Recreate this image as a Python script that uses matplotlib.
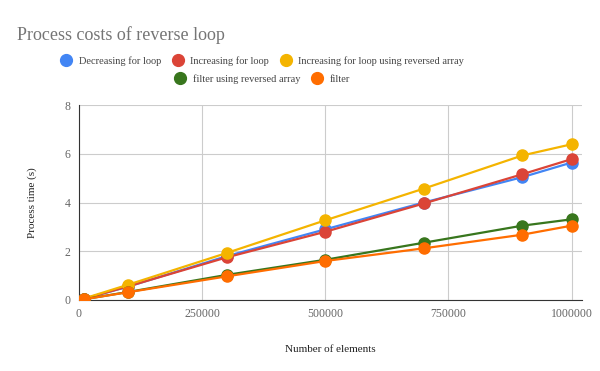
import matplotlib
matplotlib.use("Agg")
import matplotlib.pyplot as plt
from matplotlib.lines import Line2D

plt.rcParams['font.family'] = ['Liberation Serif', 'DejaVu Serif']

elements = [10000, 100000, 300000, 500000, 700000, 900000, 1000000]
decreasing_for = [0.05, 0.55, 1.80, 2.90, 4.00, 5.04, 5.64]
increasing_for = [0.05, 0.56, 1.75, 2.80, 3.96, 5.16, 5.78]
increasing_reversed = [0.06, 0.63, 1.93, 3.27, 4.57, 5.93, 6.39]
filter_reversed = [0.03, 0.33, 1.03, 1.65, 2.35, 3.05, 3.31]
filter_plain = [0.03, 0.32, 0.97, 1.60, 2.12, 2.68, 3.05]

x_ticks = [0, 250000, 500000, 750000, 1000000]
x_labels = ["0", "250000", "500000", "750000", "1000000"]
y_ticks = [0, 2, 4, 6, 8]

series = [
    ("Decreasing for loop", decreasing_for, "#4285F4"),
    ("Increasing for loop", increasing_for, "#DB4437"),
    ("Increasing for loop using reversed array", increasing_reversed, "#F4B400"),
    ("filter using reversed array", filter_reversed, "#38761D"),
    ("filter", filter_plain, "#FF6D00"),
]

fig = plt.figure(figsize=(6, 3.71), dpi=100)
ax = fig.add_axes([79/600, 1-300/371, (582-79)/600, (300-105)/371])

for name, vals, col in series:
    ax.plot(elements, vals, color=col, lw=1.6, marker='o', ms=8, label=name, zorder=3)

ax.set_xlim(0, 1021000)
ax.set_ylim(0, 8)
ax.set_xticks(x_ticks, x_labels)
ax.set_yticks(y_ticks)
ax.grid(True, color="#cccccc", lw=0.8)
ax.set_axisbelow(True)
for s in ['top', 'right']:
    ax.spines[s].set_visible(False)
ax.spines['left'].set_color("#333333")
ax.spines['bottom'].set_color("#333333")
ax.tick_params(length=0, labelsize=8.5, labelcolor="#666666", pad=6)
ax.set_xlabel("Number of elements", fontsize=8, color="#222222", labelpad=18)
ax.set_ylabel("Process time (s)", fontsize=8, color="#222222", labelpad=20)

fig.text(17/600, 1-35/371, "Process costs of reverse loop", fontsize=13, color="#757575", va='center')

def handles(items):
    return [Line2D([], [], ls='none', marker='o', ms=8.5, color=c, label=n) for n, _, c in items]

fig.legend(handles=handles(series[:3]), loc='center', bbox_to_anchor=(262/600, 1-61/371),
           ncol=3, frameon=False, fontsize=7.5, handletextpad=0.6, columnspacing=1.0,
           handlelength=1.2, labelcolor="#444444")
fig.legend(handles=handles(series[3:]), loc='center', bbox_to_anchor=(262/600, 1-79/371),
           ncol=2, frameon=False, fontsize=7.5, handletextpad=0.6, columnspacing=1.0,
           handlelength=1.2, labelcolor="#444444")

fig.savefig("out.png", dpi=100)
